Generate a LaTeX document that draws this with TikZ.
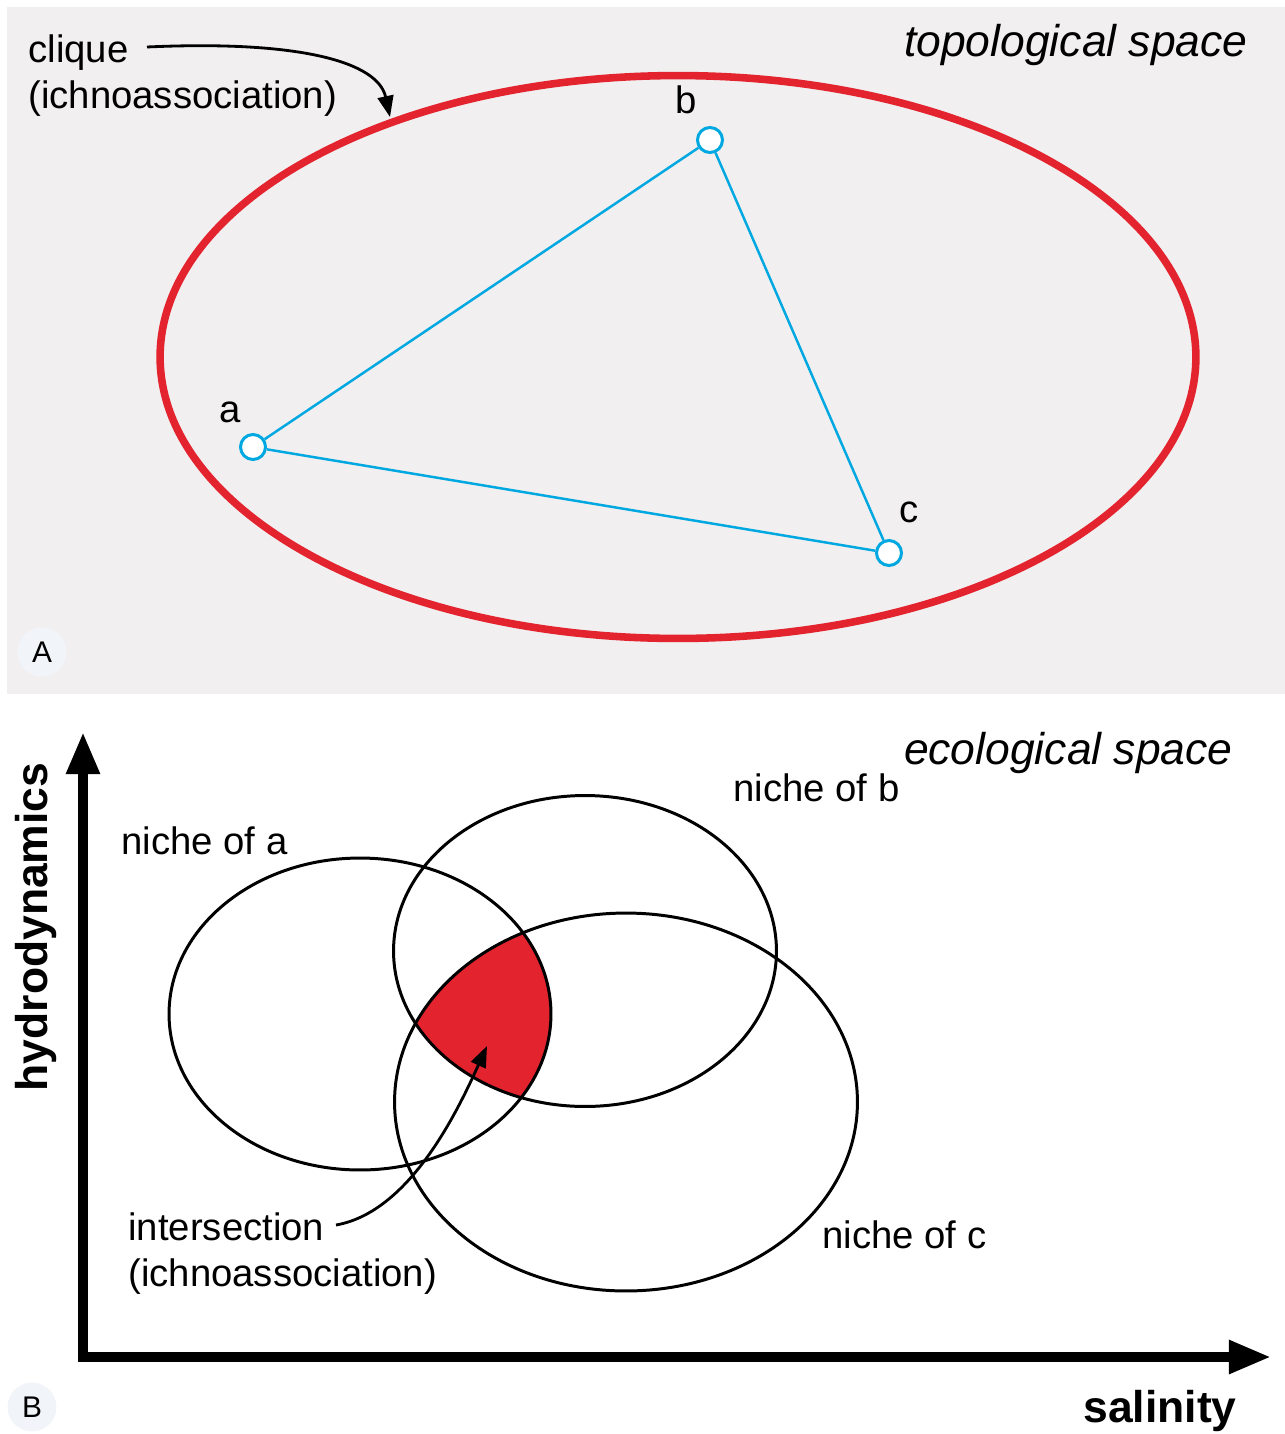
\documentclass[tikz,border=0pt]{standalone}
\usepackage{fontspec}
\setmainfont{Liberation Sans}
\usepackage{xcolor}
\usetikzlibrary{arrows.meta}
\definecolor{panelgray}{HTML}{F1EFF0}
\definecolor{tagfill}{HTML}{F1F5F9}
\definecolor{cliquered}{HTML}{E3232E}
\definecolor{vertexblue}{HTML}{00A8E1}

\begin{document}
\begin{tikzpicture}[x=0.02cm,y=-0.02cm,
  txt/.style={font=\fontsize{21.8pt}{26pt}\selectfont, inner sep=0pt},
  bigtxt/.style={font=\fontsize{25.3pt}{30pt}\selectfont, inner sep=0pt},
  vertex/.style={circle, draw=vertexblue, line width=1.7pt, fill=white, minimum size=0.5cm, inner sep=0pt},
  tag/.style={circle, fill=tagfill, minimum size=0.98cm, inner sep=0pt, font=\fontsize{17pt}{20pt}\selectfont},
  niche/.style={line width=1.7pt},
  pointer/.style={line width=1.6pt, -{Triangle[length=12pt,width=9pt]}},
  axis/.style={line width=5.6pt, line join=miter, {Triangle[length=24pt,width=18pt]}-{Triangle[length=24pt,width=18pt]}}]

\useasboundingbox (0,0) rectangle (1285,1434);

% A: topological space
\fill[panelgray] (7,7) rectangle (1285,694);
\draw[cliquered, line width=4.3pt] (678,357) ellipse [x radius=10.36cm, y radius=5.63cm];

\node[vertex] (na) at (253,447) {};
\node[vertex] (nb) at (710,140) {};
\node[vertex] (nc) at (889,553) {};
\draw[vertexblue, line width=1.4pt] (na) -- (nb) -- (nc) -- (na);
\node[txt, anchor=base] (la) at (230,422) {a};
\node[txt, anchor=base] (lb) at (686,113) {b};
\node[txt, anchor=base] (lc) at (909,522) {c};

\node[txt, anchor=base west] (clique) at (28,62) {clique};
\node[txt, anchor=base west] (cliquesub) at (28,108) {(ichnoassociation)};
\coordinate (cliquetail) at (147,47);
\coordinate (cliquetip) at (390,117);
\draw[pointer] (cliquetail) .. controls (300,40) and (378,62) .. (cliquetip);

\node[bigtxt, anchor=base east] (topo) at (1248,56) {\itshape topological space};
\node[tag] (tagA) at (42,652) {A};

% B: ecological space
\coordinate (origin) at (83,1357);
\coordinate (ytop) at (83,732);
\coordinate (xend) at (1271,1357);
\draw[axis] (ytop) -- (origin) -- (xend);
\node[bigtxt, rotate=90] (hydro) at (36,927) {\bfseries hydrodynamics};
\node[bigtxt, anchor=base east] (sal) at (1237,1422) {\bfseries salinity};

\begin{scope}
\clip (360,1014) ellipse [x radius=3.82cm, y radius=3.12cm];
\clip (585,951) ellipse [x radius=3.83cm, y radius=3.11cm];
\fill[cliquered] (626,1102) ellipse [x radius=4.63cm, y radius=3.78cm];
\end{scope}
\draw[niche] (360,1014) ellipse [x radius=3.82cm, y radius=3.12cm];
\draw[niche] (585,951) ellipse [x radius=3.83cm, y radius=3.11cm];
\draw[niche] (626,1102) ellipse [x radius=4.63cm, y radius=3.78cm];

\node[txt, anchor=base west] (nichea) at (121,854) {niche of a};
\node[txt, anchor=base west] (nicheb) at (733,801) {niche of b};
\node[txt, anchor=base west] (nichec) at (822,1248) {niche of c};
\node[bigtxt, anchor=base east] (eco) at (1233,764) {\itshape ecological space};

\node[txt, anchor=base west] (isect) at (128,1240) {intersection};
\node[txt, anchor=base west] (isectsub) at (128,1286) {(ichnoassociation)};
\coordinate (isecttail) at (336,1225);
\coordinate (isecttip) at (487,1046);
\draw[pointer] (isecttail) .. controls (410,1212) and (458,1110) .. (isecttip);

\node[tag] (tagB) at (32,1407) {B};
\end{tikzpicture}
\end{document}
